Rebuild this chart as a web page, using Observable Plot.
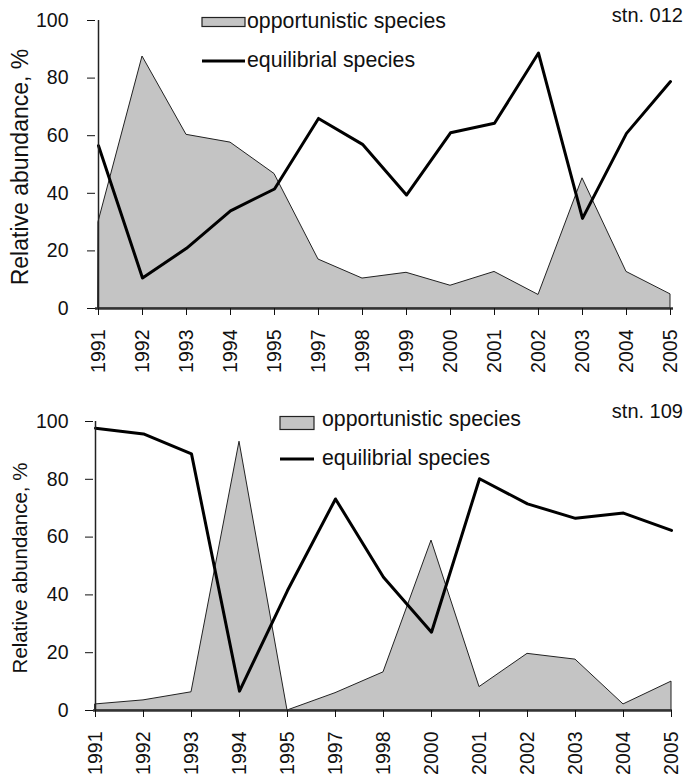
<!DOCTYPE html>
<html>
<head>
<meta charset="utf-8">
<script src="https://cdn.jsdelivr.net/npm/d3@7"></script>
<script src="https://cdn.jsdelivr.net/npm/@observablehq/plot@0.6"></script>
<style>
  body { margin: 0; background: #fff; }
  #wrap { position: relative; width: 689px; height: 781px; font-family: "Liberation Sans", Arial, sans-serif; }
  #wrap svg { display: block; }
  #wrap svg text { font-size: 19.5px; font-family: "Liberation Sans", Arial, sans-serif; }
  #wrap svg text.legend { font-size: 21.3px; }
  #wrap svg text.stn { font-size: 20px; }
</style>
</head>
<body>
<div id="wrap"></div>
<script>
const yearsTop = ["1991","1992","1993","1994","1995","1997","1998","1999","2000","2001","2002","2003","2004","2005"];
const oppTop = [30, 87.5, 60.3, 57.6, 46.7, 17, 10.4, 12.4, 7.9, 12.7, 4.7, 45.2, 12.7, 4.9];
const equTop = [56.5, 10.6, 20.9, 33.9, 41.5, 66, 57, 39.4, 61, 64.3, 88.7, 31.3, 60.8, 78.8];

const yearsBot = ["1991","1992","1993","1994","1995","1997","1998","2000","2001","2002","2003","2004","2005"];
const oppBot = [2.1, 3.5, 6.3, 93, 0, 6, 13.2, 58.8, 8.1, 19.6, 17.6, 2.1, 10];
const equBot = [97.7, 95.7, 88.8, 6.7, 41.5, 73.2, 46.1, 27.1, 80.2, 71.5, 66.5, 68.3, 62.3];

const yTicks = [0, 20, 40, 60, 80, 100];
const legendLabels = ["opportunistic species", "equilibrial species"];
const stations = ["stn. 012", "stn. 109"];
const yTitle = "Relative abundance, %";

function panel(years, opp, equ, cfg) {
  const data = years.map((y, i) => ({year: y, opp: opp[i], equ: equ[i]}));
  const chart = Plot.plot({
    width: 689,
    height: cfg.height,
    marginTop: cfg.mt,
    marginBottom: cfg.mb,
    marginLeft: cfg.ml,
    marginRight: cfg.mr,
    style: {color: "#111", background: "transparent"},
    x: {type: "point", domain: years, padding: 0, label: null},
    y: {domain: [0, 100], ticks: yTicks, label: null},
    marks: [
      Plot.areaY(data, {x: "year", y: "opp", fill: "#c4c4c4", stroke: "#222", strokeWidth: 1}),
      Plot.line(data, {x: "year", y: "equ", stroke: "#000", strokeWidth: 3}),
      Plot.ruleY([0], {stroke: "#333", strokeWidth: 2.5}),
      Plot.ruleX([years[0]], {y1: 0, y2: 100, stroke: "#222", strokeWidth: 1.5}),
      Plot.axisY({ticks: yTicks, tickSize: 8, tickPadding: cfg.ypad, tickFormat: d3.format("d"), label: null}),
      Plot.axisX({tickSize: 7, tickPadding: 14, tickRotate: -90, label: null})
    ]
  });
  const svg = d3.select(chart);
  svg.append("text")
    .attr("transform", `translate(${cfg.titleX},${cfg.titleY}) rotate(-90)`)
    .attr("text-anchor", "middle").attr("dominant-baseline", "middle")
    .style("font-size", cfg.titleSize + "px")
    .attr("fill", "#111")
    .text(yTitle);
  const L = cfg.legend;
  svg.append("rect").attr("x", L.x).attr("y", L.ry - L.rh / 2).attr("width", L.w).attr("height", L.rh)
    .attr("fill", "#c4c4c4").attr("stroke", "#222").attr("stroke-width", 1.2);
  svg.append("line").attr("x1", L.x).attr("x2", L.x + L.w).attr("y1", L.y2).attr("y2", L.y2)
    .attr("stroke", "#000").attr("stroke-width", 3);
  svg.append("text").attr("class", "legend").attr("x", L.tx).attr("y", L.y1).attr("text-anchor", "start").attr("dominant-baseline", "middle")
    .attr("fill", "#111").text(legendLabels[0]);
  svg.append("text").attr("class", "legend").attr("x", L.tx).attr("y", L.y2).attr("text-anchor", "start").attr("dominant-baseline", "middle")
    .attr("fill", "#111").text(legendLabels[1]);
  svg.append("text").attr("class", "stn").attr("x", 683).attr("y", cfg.stnY).attr("text-anchor", "end").attr("dominant-baseline", "middle")
    .attr("fill", "#111").text(cfg.stn);
  return chart;
}

const wrap = document.getElementById("wrap");
wrap.appendChild(panel(yearsTop, oppTop, equTop, {
  height: 380, mt: 20, mb: 72, ml: 95, mr: 16, ypad: 19,
  titleX: 22, titleY: 167, titleSize: 23,
  legend: {x: 202, w: 43, ry: 22, rh: 9, tx: 247, y1: 22, y2: 61}, stnY: 17, stn: stations[0]
}));
wrap.appendChild(panel(yearsBot, oppBot, equBot, {
  height: 401, mt: 41, mb: 71, ml: 93, mr: 17, ypad: 17,
  titleX: 22, titleY: 188, titleSize: 20.5,
  legend: {x: 280, w: 34, ry: 43, rh: 13, tx: 322, y1: 40, y2: 79}, stnY: 33, stn: stations[1]
}));
</script>
</body>
</html>
